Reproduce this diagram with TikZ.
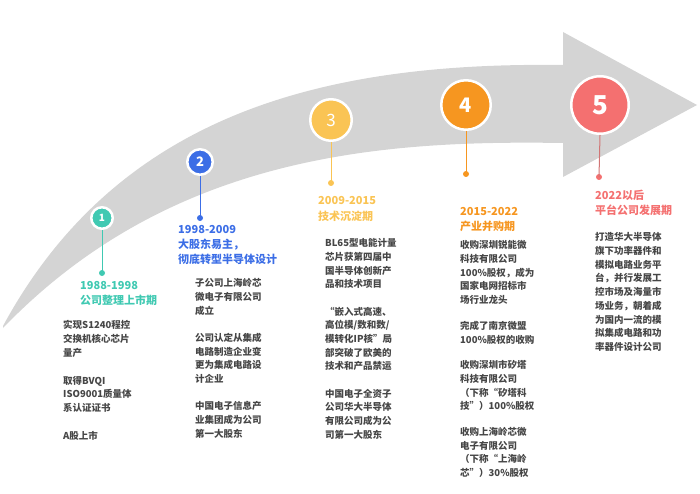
\documentclass[tikz,border=0pt]{standalone}
\usepackage{fontspec}
\setmainfont{Noto Sans CJK SC}
\definecolor{band}{RGB}{212,212,212}
\definecolor{tealc}{RGB}{64,201,178}
\definecolor{bluec}{RGB}{60,110,230}
\definecolor{yellowc}{RGB}{250,196,84}
\definecolor{orangec}{RGB}{246,150,32}
\definecolor{redc}{RGB}{244,112,112}
\definecolor{textc}{RGB}{70,70,70}
\tikzset{
  stage/.style={circle, fill=#1, draw=white, line width=2.5pt, text=white, inner sep=0pt},
  period/.style={anchor=north west, align=left, inner sep=0pt, text=#1, font=\fontsize{11}{15}\selectfont\bfseries},
  events/.style={anchor=north west, align=left, inner sep=0pt, text=textc, font=\fontsize{9.5}{13.7}\selectfont\bfseries},
  stem/.style={draw=#1, line width=1pt},
  dot/.style={circle, fill=#1, inner sep=0pt, minimum size=6pt}
}
\begin{document}
\begin{tikzpicture}[x=1pt,y=-1pt]
   \useasboundingbox (0,0) rectangle (700,494);

   \fill [band] (3,326) .. controls (120,110) and (330,62) .. (563,65) -- (563,32) -- (697,105)
      -- (563,177) -- (563,143) .. controls (380,140) and (170,155) .. (3,328) -- cycle;

   \node (Stage1) at (102,218) [stage=tealc, minimum size=21.5pt, font=\fontsize{10}{10}\selectfont\bfseries] {1};
   \node (Dot1) at (102,273) [dot=tealc] {};
   \node (Period1) at (80,281) [period=tealc] {1988-1998\\公司整理上市期};
   \node (Events1) at (63,320.5) [events] {实现S1240程控\\交换机核心芯片\\量产\\[14pt]
      取得BVQI\\ISO9001质量体\\系认证证书\\[14pt]A股上市};

   \node (Stage2) at (200,162) [stage=bluec, minimum size=25.5pt, font=\fontsize{13}{13}\selectfont\bfseries] {2};
   \node (Dot2) at (200,218) [dot=bluec] {};
   \node (Period2) at (178,225) [period=bluec] {1998-2009\\大股东易主，\\彻底转型半导体设计};
   \node (Events2) at (195,278.5) [events] {子公司上海岭芯\\微电子有限公司\\成立\\[13.5pt]
      公司认定从集成\\电路制造企业变\\更为集成电路设\\计企业\\[13.5pt]
      中国电子信息产\\业集团成为公司\\第一大股东};

   \node (Stage3) at (331,120) [stage=yellowc, minimum size=41.5pt, font=\fontsize{17}{17}\selectfont] {3};
   \node (Dot3) at (331,183) [dot=yellowc] {};
   \node (Period3) at (318,196) [period=yellowc, font=\fontsize{11}{16.5}\selectfont\bfseries] {2009-2015\\技术沉淀期};
   \node (Events3) at (325,238.5) [events] {BL65型电能计量\\芯片获第四届中\\国半导体创新产\\品和技术项目\\[13.5pt]
      “嵌入式高速、\\高位模/数和数/\\模转化IP核”局\\部突破了欧美的\\技术和产品禁运\\[13.5pt]
      中国电子全资子\\公司华大半导体\\有限公司成为公\\司第一大股东};

   \node (Stage4) at (466,105) [stage=orangec, minimum size=49.5pt, font=\fontsize{20}{20}\selectfont\bfseries] {4};
   \node (Dot4) at (466,174) [dot=orangec] {};
   \node (Period4) at (460,207) [period=orangec] {2015-2022\\产业并购期};
   \node (Events4) at (460,240.5) [events] {收购深圳锐能微\\科技有限公司\\100\%股权，成为\\国家电网招标市\\场行业龙头\\[12pt]
      完成了南京微盟\\100\%股权的收购\\[12pt]
      收购深圳市矽塔\\科技有限公司\\（下称“矽塔科\\技”）100\%股权\\[12pt]
      收购上海岭芯微\\电子有限公司\\（下称“上海岭\\芯”）30\%股权};

   \node (Stage5) at (600,105) [stage=redc, minimum size=57.5pt, font=\fontsize{26}{26}\selectfont\bfseries] {5};
   \node (Dot5) at (599,177) [dot=redc] {};
   \node (Period5) at (595,190) [period=redc] {2022以后\\平台公司发展期};
   \node (Events5) at (595,232.5) [events] {打造华大半导体\\旗下功率器件和\\模拟电路业务平\\台，并行发展工\\控市场及海量市\\场业务，朝着成\\为国内一流的模\\拟集成电路和功\\率器件设计公司};

   \draw [stem=tealc] (Stage1.south) -- (Dot1.center);
   \draw [stem=bluec] (Stage2.south) -- (Dot2.center);
   \draw [stem=yellowc] (Stage3.south) -- (Dot3.center);
   \draw [stem=orangec] (Stage4.south) -- (Dot4.center);
   \draw [stem=redc!70!gray] (Stage5.south) -- (Dot5.center);

\end{tikzpicture}
\end{document}
